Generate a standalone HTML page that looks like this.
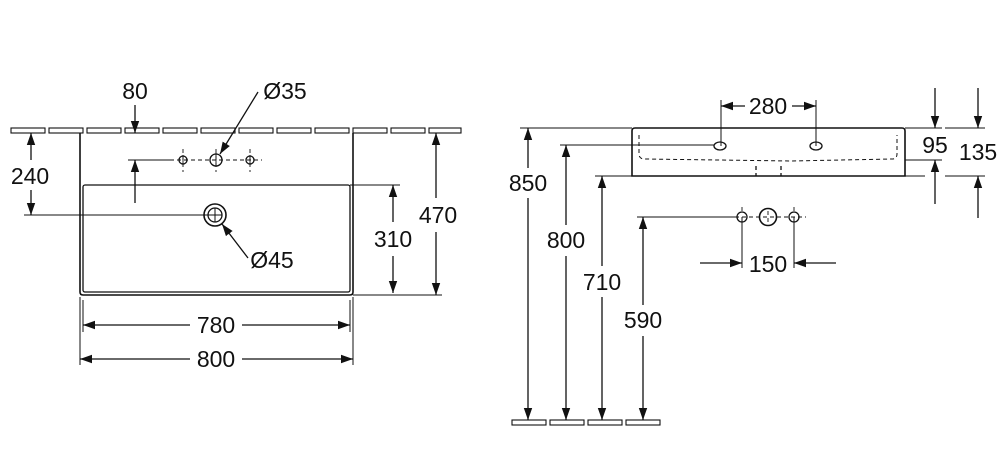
<!DOCTYPE html>
<html><head><meta charset="utf-8"><style>
html,body{margin:0;padding:0;background:#fff;width:1000px;height:470px;overflow:hidden}
svg{display:block}
text{font-family:"Liberation Sans",sans-serif;font-size:23px;fill:#111;text-anchor:middle;dominant-baseline:central}
</style></head><body>
<svg width="1000" height="470" viewBox="0 0 1000 470" fill="none" stroke="#111" stroke-width="1.3">
<defs>
<marker id="a" viewBox="0 0 10 10" refX="10" refY="5" markerWidth="12" markerHeight="12" markerUnits="userSpaceOnUse" orient="auto"><path d="M0,1.5 L10,5 L0,8.5z" fill="#111" stroke="none"/></marker>
</defs>
<g stroke-width="1.1">
<rect x="11" y="128" width="34" height="5"/><rect x="49" y="128" width="34" height="5"/><rect x="87" y="128" width="34" height="5"/><rect x="125" y="128" width="34" height="5"/><rect x="163" y="128" width="34" height="5"/><rect x="201" y="128" width="34" height="5"/><rect x="239" y="128" width="34" height="5"/><rect x="277" y="128" width="34" height="5"/><rect x="315" y="128" width="34" height="5"/><rect x="353" y="128" width="34" height="5"/><rect x="391" y="128" width="34" height="5"/><rect x="429" y="128" width="32" height="5"/>
</g>
<path d="M80,133 V292 Q80,295 83,295 H350 Q353,295 353,292 V133" stroke-width="1.6"/>
<rect x="83" y="185" width="267" height="107" rx="2" stroke-width="1.3"/>
<circle cx="215" cy="215" r="11" stroke-width="1.6"/><circle cx="215" cy="215" r="7"/>
<line x1="24" y1="215" x2="222" y2="215" stroke-width="1"/><line x1="215" y1="208" x2="215" y2="222" stroke-width="1"/>
<circle cx="183" cy="160" r="4"/><circle cx="216" cy="160" r="6"/><circle cx="250" cy="160" r="4"/>
<g stroke-width="0.9">
<line x1="183" y1="155" x2="183" y2="165"/><line x1="250" y1="155" x2="250" y2="165"/><line x1="216" y1="153" x2="216" y2="167"/>
</g>
<g stroke-dasharray="4,3" stroke-width="0.9">
<line x1="128" y1="160" x2="262" y2="160"/>
<line x1="183" y1="149" x2="183" y2="172"/><line x1="216" y1="149" x2="216" y2="172"/><line x1="250" y1="149" x2="250" y2="172"/>
</g>
<line x1="128" y1="160" x2="170" y2="160" stroke-width="1"/>
<line x1="135" y1="105" x2="135" y2="133" marker-end="url(#a)"/>
<line x1="135" y1="203" x2="135" y2="160" marker-end="url(#a)"/>
<line x1="258" y1="92" x2="220" y2="154" marker-end="url(#a)"/>
<line x1="248" y1="258" x2="222" y2="224" marker-end="url(#a)"/>
<line x1="31" y1="160" x2="31" y2="133" marker-end="url(#a)"/>
<line x1="31" y1="190" x2="31" y2="215" marker-end="url(#a)"/>
<line x1="350" y1="185" x2="400" y2="185" stroke-width="1"/>
<line x1="393" y1="222" x2="393" y2="185" marker-end="url(#a)"/>
<line x1="393" y1="256" x2="393" y2="293" marker-end="url(#a)"/>
<line x1="353" y1="295" x2="442" y2="295" stroke-width="1"/>
<line x1="436" y1="198" x2="436" y2="133" marker-end="url(#a)"/>
<line x1="436" y1="232" x2="436" y2="295" marker-end="url(#a)"/>
<line x1="80" y1="297" x2="80" y2="365" stroke-width="1"/><line x1="353" y1="297" x2="353" y2="365" stroke-width="1"/>
<line x1="83" y1="300" x2="83" y2="332" stroke-width="1"/><line x1="350" y1="300" x2="350" y2="332" stroke-width="1"/>
<line x1="190" y1="325" x2="83" y2="325" marker-end="url(#a)"/>
<line x1="242" y1="325" x2="350" y2="325" marker-end="url(#a)"/>
<line x1="190" y1="359" x2="80" y2="359" marker-end="url(#a)"/>
<line x1="242" y1="359" x2="353" y2="359" marker-end="url(#a)"/>
<g stroke="none">
<text x="135" y="91">80</text><text x="285" y="91">Ø35</text><text x="30" y="176">240</text><text x="272" y="260">Ø45</text>
<text x="438" y="215">470</text><text x="393" y="239">310</text><text x="216" y="325">780</text><text x="216" y="359">800</text>
</g>

<path d="M632,176 V131 Q632,128 635,128 H902 Q905,128 905,131 V176 Z" stroke-width="1.6"/>
<line x1="520" y1="128" x2="632" y2="128" stroke-width="1"/>
<path d="M639,135 V154 Q639,159 645,159 L791,161 L892,159 Q897,159 897,154 V135" stroke-dasharray="4,3" stroke-width="1"/>
<line x1="756" y1="166" x2="756" y2="176" stroke-dasharray="4,3"/><line x1="781" y1="166" x2="781" y2="176" stroke-dasharray="4,3"/>
<ellipse cx="720" cy="146" rx="6" ry="4"/><ellipse cx="816" cy="146" rx="6" ry="4"/>
<line x1="560" y1="145" x2="714" y2="145" stroke-width="1"/>
<line x1="595" y1="176" x2="632" y2="176" stroke-width="1"/>
<line x1="905" y1="176" x2="925" y2="176" stroke-width="1"/>
<line x1="905" y1="160" x2="942" y2="160" stroke-width="1"/>
<line x1="905" y1="128" x2="942" y2="128" stroke-width="1"/>
<line x1="945" y1="128" x2="985" y2="128" stroke-width="1"/>
<line x1="945" y1="176" x2="985" y2="176" stroke-width="1"/>
<line x1="721" y1="100" x2="721" y2="146" stroke-width="1"/><line x1="816" y1="100" x2="816" y2="146" stroke-width="1"/>
<line x1="745" y1="106" x2="721" y2="106" marker-end="url(#a)"/>
<line x1="792" y1="106" x2="816" y2="106" marker-end="url(#a)"/>
<line x1="935" y1="88" x2="935" y2="128" marker-end="url(#a)"/>
<line x1="935" y1="204" x2="935" y2="160" marker-end="url(#a)"/>
<line x1="978" y1="88" x2="978" y2="128" marker-end="url(#a)"/>
<line x1="978" y1="218" x2="978" y2="176" marker-end="url(#a)"/>
<line x1="528" y1="168" x2="528" y2="128" marker-end="url(#a)"/>
<line x1="528" y1="198" x2="528" y2="420" marker-end="url(#a)"/>
<line x1="566" y1="225" x2="566" y2="145" marker-end="url(#a)"/>
<line x1="566" y1="256" x2="566" y2="420" marker-end="url(#a)"/>
<line x1="602" y1="266" x2="602" y2="176" marker-end="url(#a)"/>
<line x1="602" y1="297" x2="602" y2="420" marker-end="url(#a)"/>
<line x1="643" y1="305" x2="643" y2="217" marker-end="url(#a)"/>
<line x1="643" y1="336" x2="643" y2="420" marker-end="url(#a)"/>
<g stroke-width="1.1">
<rect x="512" y="420" width="34" height="5"/><rect x="550" y="420" width="34" height="5"/><rect x="588" y="420" width="34" height="5"/><rect x="626" y="420" width="34" height="5"/>
</g>
<line x1="637" y1="217" x2="735" y2="217" stroke-width="1"/>
<circle cx="742" cy="217" r="5"/><circle cx="768" cy="217" r="8.5" stroke-width="1.6"/><circle cx="794" cy="217" r="5"/>
<g stroke-dasharray="4,3" stroke-width="0.9">
<line x1="735" y1="217" x2="806" y2="217"/><line x1="768" y1="211" x2="768" y2="223"/>
<line x1="742" y1="207" x2="742" y2="212"/><line x1="794" y1="207" x2="794" y2="212"/>
</g>
<line x1="742" y1="217" x2="742" y2="268" stroke-width="1"/><line x1="794" y1="217" x2="794" y2="268" stroke-width="1"/>
<line x1="700" y1="263" x2="742" y2="263" marker-end="url(#a)"/>
<line x1="836" y1="263" x2="794" y2="263" marker-end="url(#a)"/>
<g stroke="none">
<text x="768" y="106">280</text><text x="935" y="145">95</text><text x="978" y="152">135</text>
<text x="528" y="183">850</text><text x="566" y="240">800</text><text x="602" y="282">710</text><text x="643" y="320">590</text>
<text x="768" y="264">150</text>
</g>
</svg>
</body></html>
